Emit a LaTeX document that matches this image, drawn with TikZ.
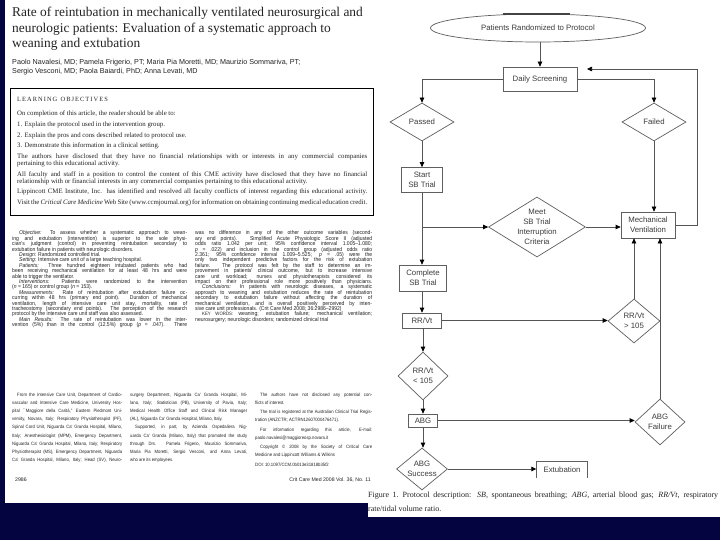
\documentclass[tikz,border=0pt]{standalone}
\usepackage{fontspec}
\setmainfont{Liberation Serif}
\setsansfont{Liberation Sans}
\newfontfamily\condsans[FakeStretch=0.9]{Liberation Sans}
\usetikzlibrary{arrows.meta,shapes.geometric}
\definecolor{navy}{RGB}{4,4,64}
\definecolor{ink}{RGB}{35,35,35}
\definecolor{flowtext}{RGB}{60,60,60}
\definecolor{boxc}{RGB}{95,95,95}
\definecolor{linec}{RGB}{85,85,85}
\newcommand\jl[1]{\hbox to \hsize{#1}}
\newcommand\nl[1]{\hbox{#1}}
\newcommand\flowfont{\sffamily\fontsize{7.8}{10}\selectfont}
\tikzset{
  fbox/.style={rectangle, draw=boxc, line width=0.7pt, inner sep=1pt, font=\flowfont, text=flowtext, align=center},
  fdia/.style={diamond, draw=boxc, line width=0.7pt, inner sep=0pt},
  flab/.style={font=\flowfont, text=flowtext, align=center, inner sep=0pt},
  conn/.style={draw=linec, line width=0.7pt, -{Triangle[length=5pt,width=4.5pt,color=black]}},
  plainline/.style={draw=linec, line width=0.7pt},
  txt/.style={inner sep=0pt, anchor=base west, text=ink},
}
\begin{document}
\begin{tikzpicture}[x=1pt,y=-1pt]
\useasboundingbox (0,0) rectangle (720,540);
\fill[navy] (0,0) rectangle (720,540);
\fill[white] (5,0) rectangle (720,503);
\fill[white] (368,503) rectangle (720,517);

% ---------- paper page ----------
\node[txt, font=\fontsize{13.4}{15.5}\selectfont] (title) at (12,17)
 {\vtop{\hsize=360pt \baselineskip=15.5pt \lineskiplimit=-20pt
  \nl{Rate of reintubation in mechanically ventilated neurosurgical and}
  \nl{neurologic patients: Evaluation of a systematic approach to}
  \nl{weaning and extubation}}};
\node[txt, font=\sffamily\fontsize{7.2}{9}\selectfont] (authors) at (12,64.5)
 {\vtop{\hsize=300pt \baselineskip=9pt \lineskiplimit=-20pt
  \nl{Paolo Navalesi, MD; Pamela Frigerio, PT; Maria Pia Moretti, MD; Maurizio Sommariva, PT;}
  \nl{Sergio Vesconi, MD; Paola Baiardi, PhD; Anna Levati, MD}}};

\draw[black, line width=0.8pt] (10,88) rectangle (373,215);
\node[txt, font=\fontsize{6.8}{7}\selectfont] (objectives) at (17,102)
 {\vtop{\hsize=350pt \baselineskip=7pt \lineskiplimit=-20pt
  \nl{\fontsize{6.4}{7}\selectfont L\,E\,A\,R\,N\,I\,N\,G\ \ O\,B\,J\,E\,C\,T\,I\,V\,E\,S}
  \vskip6.5pt
  \nl{On completion of this article, the reader should be able to:}
  \vskip4pt
  \nl{1. Explain the protocol used in the intervention group.}
  \vskip4pt
  \nl{2. Explain the pros and cons described related to protocol use.}
  \vskip3.5pt
  \nl{3. Demonstrate this information in a clinical setting.}
  \vskip4pt
  \jl{The authors have disclosed that they have no financial relationships with or interests in any commercial companies}
  \nl{pertaining to this educational activity.}
  \vskip3.5pt
  \jl{All faculty and staff in a position to control the content of this CME activity have disclosed that they have no financial}
  \nl{relationship with or financial interests in any commercial companies pertaining to this educational activity.}
  \vskip3.5pt
  \jl{Lippincott CME Institute, Inc. has identified and resolved all faculty conflicts of interest regarding this educational activity.}
  \vskip3.5pt
  \jl{Visit the \textit{Critical Care Medicine} Web Site (www.ccmjournal.org) for information on obtaining continuing medical education credit.}}};

\node[txt, font=\condsans\fontsize{5.6}{5.4}\selectfont] (absleft) at (12,235)
 {\vtop{\hsize=175pt \baselineskip=5.4pt \lineskiplimit=-20pt
  \jl{\hskip7pt\textit{Objective:} To assess whether a systematic approach to wean-}
  \jl{ing and extubation (intervention) is superior to the sole physi-}
  \jl{cian's judgment (control) in preventing reintubation secondary to}
  \nl{extubation failure in patients with neurologic disorders.}
  \nl{\hskip7pt\textit{Design:} Randomized controlled trial.}
  \nl{\hskip7pt\textit{Setting:} Intensive care unit of a large teaching hospital.}
  \jl{\hskip7pt\textit{Patients:} Three hundred eighteen intubated patients who had}
  \jl{been receiving mechanical ventilation for at least 48 hrs and were}
  \nl{able to trigger the ventilator.}
  \jl{\hskip7pt\textit{Interventions:} Patients were randomized to the intervention}
  \nl{(\textit{n} = 165) or control group (\textit{n} = 153).}
  \jl{\hskip7pt\textit{Measurements:} Rate of reintubation after extubation failure oc-}
  \jl{curring within 48 hrs (primary end point). Duration of mechanical}
  \jl{ventilation, length of intensive care unit stay, mortality, rate of}
  \jl{tracheostomy (secondary end points). The perception of the research}
  \nl{protocol by the intensive care unit staff was also assessed.}
  \jl{\hskip7pt\textit{Main Results:} The rate of reintubation was lower in the inter-}
  \jl{vention (5\%) than in the control (12.5\%) group (\textit{p} = .047). There}}};

\node[txt, font=\condsans\fontsize{5.6}{5.4}\selectfont] (absright) at (195,235)
 {\vtop{\hsize=177pt \baselineskip=5.4pt \lineskiplimit=-20pt
  \jl{was no difference in any of the other outcome variables (second-}
  \jl{ary end points). Simplified Acute Physiologic Score II (adjusted}
  \jl{odds ratio 1.042 per unit; 95\% confidence interval 1.005–1.080;}
  \jl{\textit{p} = .022) and inclusion in the control group (adjusted odds ratio}
  \jl{2.361; 95\% confidence interval 1.009–5.525; \textit{p} = .05) were the}
  \jl{only two independent predictive factors for the risk of extubation}
  \jl{failure. The protocol was felt by the staff to determine an im-}
  \jl{provement in patients' clinical outcome, but to increase intensive}
  \jl{care unit workload; nurses and physiotherapists considered its}
  \jl{impact on their professional role more positively than physicians.}
  \jl{\hskip7pt\textit{Conclusions:} In patients with neurologic diseases, a systematic}
  \jl{approach to weaning and extubation reduces the rate of reintubation}
  \jl{secondary to extubation failure without affecting the duration of}
  \jl{mechanical ventilation, and is overall positively perceived by inten-}
  \nl{sive care unit professionals. (Crit Care Med 2008; 36:2986–2992)}
  \jl{\hskip7pt{\fontsize{4.8}{5.4}\selectfont KEY WORDS:} weaning; extubation failure; mechanical ventilation;}
  \nl{neurosurgery; neurologic disorders; randomized clinical trial}}};

\node[txt, font=\condsans\fontsize{4.7}{8.2}\selectfont] (footleft) at (12,396)
 {\vtop{\hsize=110pt \baselineskip=8.2pt \lineskiplimit=-20pt
  \jl{\hskip5pt From the Intensive Care Unit, Department of Cardio-}
  \jl{vascular and Intensive Care Medicine, University Hos-}
  \jl{pital ``Maggiore della Carità,'' Eastern Piedmont Uni-}
  \jl{versity, Novara, Italy; Respiratory Physiotherapist (PF),}
  \jl{Spinal Cord Unit, Niguarda Ca' Granda Hospital, Milano,}
  \jl{Italy; Anesthesiologist (MPM), Emergency Department,}
  \jl{Niguarda Ca' Granda Hospital, Milano, Italy; Respiratory}
  \jl{Physiotherapist (MS), Emergency Department, Niguarda}
  \jl{Ca' Granda Hospital, Milano, Italy; Head (SV), Neuro-}}};
\node[txt, font=\condsans\fontsize{4.7}{8.2}\selectfont] (footmid) at (130,396)
 {\vtop{\hsize=117pt \baselineskip=8.2pt \lineskiplimit=-20pt
  \jl{surgery Department, Niguarda Ca' Granda Hospital, Mi-}
  \jl{lano, Italy; Statistician (PB), University of Pavia, Italy;}
  \jl{Medical Health Office Staff and Clinical Risk Manager}
  \nl{(AL), Niguarda Ca' Granda Hospital, Milano, Italy.}
  \jl{\hskip5pt Supported, in part, by Azienda Ospedaliera Nig-}
  \jl{uarda Ca' Granda (Milano, Italy) that promoted the study}
  \jl{through Drs. Pamela Frigerio, Maurizio Sommariva,}
  \jl{Maria Pia Moretti, Sergio Vesconi, and Anna Levati,}
  \nl{who are its employees.}}};
\node[txt, font=\condsans\fontsize{4.7}{8}\selectfont] (footright) at (255,396)
 {\vtop{\hsize=117pt \baselineskip=8pt \lineskiplimit=-20pt
  \jl{\hskip5pt The authors have not disclosed any potential con-}
  \nl{flicts of interest.}
  \vskip1.5pt
  \jl{\hskip5pt The trial is registered at the Australian Clinical Trial Regis-}
  \nl{tration (ANZCTR; ACTRN12607000476471).}
  \vskip1.5pt
  \jl{\hskip5pt For information regarding this article, E-mail:}
  \nl{paolo.navalesi@maggioreosp.novara.it}
  \vskip1.5pt
  \jl{\hskip5pt Copyright © 2008 by the Society of Critical Care}
  \nl{Medicine and Lippincott Williams \& Wilkins}
  \vskip1.5pt
  \nl{DOI: 10.1097/CCM.0b013e31818b35f2}}};

\node[txt, font=\sffamily\fontsize{5.2}{6}\selectfont] (pagenum) at (15,481) {2986};
\node[txt, anchor=base east, font=\sffamily\fontsize{5.2}{6}\selectfont] (journal) at (371,481) {Crit Care Med 2008 Vol. 36, No. 11};

% ---------- flowchart ----------
\node[ellipse, draw=boxc, line width=0.7pt, minimum width=215pt, minimum height=28pt, inner sep=0pt, font=\flowfont, text=flowtext] (pat) at (538,28) {Patients Randomized to Protocol};
\draw[boxc!70!black, line width=1.6pt] (503,14.3) -- (570,14.3);
\node[fbox, minimum width=74pt, minimum height=24pt] (daily) at (540,79) {Daily Screening};
\node[fdia, minimum width=64pt, minimum height=38pt] (passed) at (422,122) {};
\node[flab] (passedt) at (passed) {Passed};
\node[fdia, minimum width=64pt, minimum height=38pt] (failed) at (654,122) {};
\node[flab] (failedt) at (failed) {Failed};
\node[fbox, minimum width=41pt, minimum height=25pt, inner sep=0pt] (start) at (422,180) {Start\\SB Trial};
\node[fdia, minimum width=97pt, minimum height=60pt] (meet) at (537,227) {};
\node[flab] (meett) at (meet) {Meet\\SB Trial\\Interruption\\Criteria};
\node[fbox, minimum width=54pt, minimum height=26pt, inner sep=0pt] (mv) at (648,225) {Mechanical\\Ventilation};
\node[fbox, minimum width=47pt, minimum height=26pt, inner sep=0pt] (complete) at (423,278) {Complete\\SB Trial};
\node[fbox, minimum width=39pt, minimum height=15pt, inner sep=0pt] (rrvt) at (422,320.5) {RR/Vt};
\node[fdia, minimum width=52pt, minimum height=44pt] (rrhigh) at (634,321) {};
\node[flab] (rrhight) at (rrhigh) {RR/Vt\\> 105};
\node[fdia, minimum width=50pt, minimum height=48pt] (rrlow) at (423,376) {};
\node[flab] (rrlowt) at (rrlow) {RR/Vt\\< 105};
\node[fbox, minimum width=29pt, minimum height=13pt, inner sep=0pt] (abg) at (423,420.5) {ABG};
\node[fdia, minimum width=50pt, minimum height=46pt] (abgfail) at (660,422) {};
\node[flab] (abgfailt) at (abgfail) {ABG\\Failure};
\node[fdia, minimum width=51pt, minimum height=42pt] (abgok) at (422,469) {};
\node[flab] (abgokt) at (abgok) {ABG\\Success};
\node[flab, minimum width=51pt, minimum height=16pt] (ext) at (562,470) {Extubation};
\draw[plainline, draw=boxc] (ext.south west) -- (ext.north west) -- (ext.north east) -- (ext.south east);

\coordinate (loopx) at (697,0);
\coordinate (fbend) at (587,69);
\coordinate (branch) at (start.south |- meet.west);

\draw[conn] (pat.south -| daily.north) -- (daily.north);
\draw[conn] (daily.west) -| (passed.north);
\draw[conn] (daily.east) -| (failed.north);
\draw[conn] (failed.south) -- (failed.south |- mv.north);
\draw[conn] (mv.east) -- (mv.east -| loopx) |- (fbend);
\draw[conn] (passed.south) -- (start.north);
\draw[conn] (start.south) -- (complete.north -| start.south);
\draw[conn] (branch) -- (meet.west);
\draw[conn] (meet.east) -- (meet.east -| mv.west);
\draw[conn] (complete.south -| rrvt.north) -- (rrvt.north);
\draw[conn] (rrvt.east) -- (rrvt.east -| rrhigh.west);
\draw[conn] (rrhigh.north) -- (rrhigh.north |- mv.south);
\draw[conn] (abgfail.north) -- (abgfail.north |- mv.south);
\draw[conn] (rrvt.south) -- (rrvt.south -| rrlow.north) -- (rrlow.north);
\draw[conn] (rrlow.south) -- (abg.north);
\draw[conn] (abg.east) -- (abg.east -| abgfail.west);
\draw[conn] (abg.south) -- (abgok.north -| abg.south);
\draw[conn] (abgok.east) -- (abgok.east -| ext.west);

\node[txt, font=\fontsize{8}{9}\selectfont] (caption) at (368,497.5)
 {\vtop{\hsize=350pt \baselineskip=13.5pt \lineskiplimit=-20pt
  \jl{Figure 1.\hskip4pt Protocol description: \textit{SB}, spontaneous breathing; \textit{ABG}, arterial blood gas; \textit{RR/Vt}, respiratory}
  \nl{rate/tidal volume ratio.}}};
\end{tikzpicture}
\end{document}
